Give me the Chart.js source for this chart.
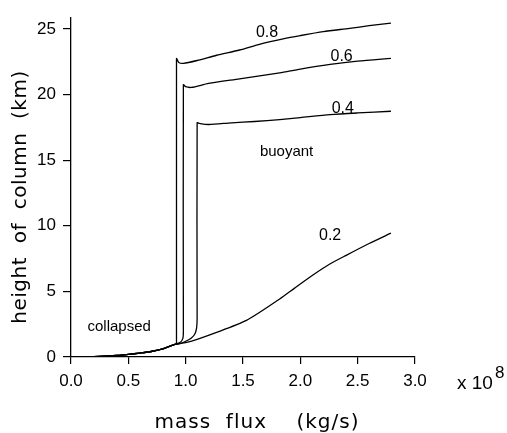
<!DOCTYPE html>
<html>
<head>
<meta charset="utf-8">
<script src="https://cdn.jsdelivr.net/npm/chart.js@4"></script>
<style>
  body { margin: 0; background: #fff; }
  #wrap { width: 507px; height: 433px; }
</style>
</head>
<body>
<div id="wrap"><canvas id="chart" width="507" height="433"></canvas></div>
<script>
// shared collapsed branch (mass flux x1e8, height km)
var baseX = [0, 0.2, 0.4, 0.5, 0.6, 0.7, 0.8, 0.9];
var baseY = [0, 0.03, 0.12, 0.2, 0.3, 0.42, 0.62, 0.95];

var x08 = [0.92, 0.92, 0.94, 0.98, 1.1, 1.27, 1.47, 1.65, 1.85, 2.0, 2.2, 2.43, 2.6, 2.79];
var y08 = [1.0, 22.75, 22.45, 22.38, 22.6, 23.0, 23.4, 23.85, 24.25, 24.5, 24.8, 25.05, 25.25, 25.45];

var x06 = [0.95, 0.975, 0.98, 0.98, 1.0, 1.05, 1.2, 1.47, 1.82, 2.0, 2.26, 2.5, 2.79];
var y06 = [1.1, 1.4, 2.0, 20.75, 20.6, 20.55, 20.85, 21.2, 21.66, 21.95, 22.3, 22.55, 22.76];

var x04 = [0.95, 1.0, 1.05, 1.08, 1.095, 1.1, 1.1, 1.12, 1.2, 1.4, 1.6, 1.82, 2.0, 2.26, 2.5, 2.79];
var y04 = [1.02, 1.2, 1.45, 1.75, 2.2, 3.0, 17.85, 17.8, 17.72, 17.85, 17.95, 18.1, 18.25, 18.47, 18.6, 18.73];

var x02 = [1.0, 1.1, 1.24, 1.53, 1.82, 1.95, 2.11, 2.25, 2.4, 2.6, 2.79];
var y02 = [1.1, 1.35, 1.78, 2.79, 4.42, 5.25, 6.25, 7.05, 7.75, 8.65, 9.44];

var seriesNames = ['0.8', '0.6', '0.4', '0.2'];
var xTicks = [0, 0.5, 1.0, 1.5, 2.0, 2.5, 3.0];
var yTicks = [0, 5, 10, 15, 20, 25];

// text notes in data coordinates
var notes = [
  { text: '0.8', x: 1.71, y: 24.75 },
  { text: '0.6', x: 2.36, y: 22.87 },
  { text: '0.4', x: 2.37, y: 18.9 },
  { text: '0.2', x: 2.26, y: 9.26 },
  { text: 'buoyant', x: 1.88, y: 15.6 },
  { text: 'collapsed', x: 0.42, y: 2.28 }
];

function toPoints(xs, ys) {
  var pts = [];
  for (var i = 0; i < baseX.length; i++) pts.push({ x: baseX[i], y: baseY[i] });
  for (var j = 0; j < xs.length; j++) pts.push({ x: xs[j], y: ys[j] });
  return pts;
}

var curves = [[x08, y08], [x06, y06], [x04, y04], [x02, y02]];
var datasets = curves.map(function (c, i) {
  return {
    label: seriesNames[i],
    data: toPoints(c[0], c[1]),
    borderColor: '#000',
    borderWidth: 1.3,
    pointRadius: 0,
    tension: 0.25,
    fill: false
  };
});

var textPlugin = {
  id: 'texts',
  afterDraw: function (chart) {
    var ctx = chart.ctx;
    var xs = chart.scales.x, ys = chart.scales.y;
    ctx.save();
    ctx.fillStyle = '#000';
    ctx.textAlign = 'center';
    ctx.textBaseline = 'middle';
    notes.forEach(function (n) {
      ctx.font = (n.text.length > 3 ? '15px' : '16px') + ' "Liberation Sans"';
      ctx.fillText(n.text, xs.getPixelForValue(n.x), ys.getPixelForValue(n.y));
    });
    // axis titles
    ctx.font = '20px "DejaVu Sans"';
    ctx.letterSpacing = '1px';
    ctx.fillText('mass  flux    (kg/s)', 257, 423);
    ctx.letterSpacing = '0.5px';
    ctx.save();
    ctx.translate(21, 197);
    ctx.rotate(-Math.PI / 2);
    ctx.fillText('height  of  column  (km)', 0, 0);
    ctx.restore();
    ctx.letterSpacing = '0px';
    // exponent
    ctx.textAlign = 'left';
    ctx.font = '19px "Liberation Sans"';
    ctx.fillText('x 10', 457, 384);
    ctx.font = '17px "Liberation Sans"';
    ctx.fillText('8', 495, 373);
    ctx.restore();
  }
};

var ctx = document.getElementById('chart').getContext('2d');
var chart = new Chart(ctx, {
  type: 'line',
  data: { datasets: datasets },
  options: {
    responsive: false,
    animation: false,
    layout: { padding: { top: 13, right: 92, left: 0, bottom: 0 } },
    plugins: { legend: { display: false }, tooltip: { enabled: false } },
    scales: {
      x: {
        type: 'linear',
        min: 0,
        max: 3,
        afterBuildTicks: function (s) { s.ticks = xTicks.map(function (v) { return { value: v }; }); },
        afterFit: function (s) { s.height = 76; },
        grid: { display: true, drawOnChartArea: false, drawTicks: true, tickLength: 7, color: '#000', lineWidth: 1.2 },
        border: { display: true, color: '#000', width: 1.3 },
        ticks: {
          color: '#000',
          padding: 7,
          maxRotation: 0,
          font: { family: 'Liberation Sans', size: 17 },
          callback: function (v) { return Number(v).toFixed(1); }
        }
      },
      y: {
        min: 0,
        max: 25.9,
        afterBuildTicks: function (s) { s.ticks = yTicks.map(function (v) { return { value: v }; }); },
        afterFit: function (s) { s.width = 71; },
        grid: { display: true, drawOnChartArea: false, drawTicks: true, tickLength: 8, color: '#000', lineWidth: 1.2 },
        border: { display: true, color: '#000', width: 1.3 },
        ticks: {
          color: '#000',
          padding: 7,
          font: { family: 'Liberation Sans', size: 17 }
        }
      }
    }
  },
  plugins: [textPlugin]
});
</script>
</body>
</html>
